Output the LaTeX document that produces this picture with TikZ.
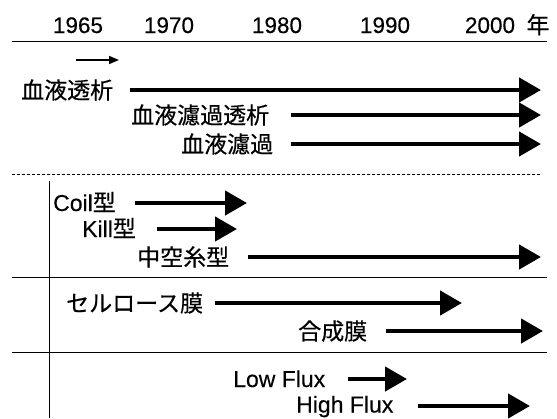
\documentclass[tikz,border=0pt]{standalone}
\usepackage{fontspec}
\setmainfont{Liberation Sans}[FakeBold=0.3]
\newfontfamily\cjk{Noto Sans CJK JP}[FakeBold=0.5]
\usetikzlibrary{arrows.meta}
\tikzset{
  year/.style={inner sep=0pt, anchor=base, font=\fontsize{22.5pt}{24pt}\selectfont},
  lat/.style={inner sep=0pt, anchor=base west, font=\fontsize{23pt}{25pt}\selectfont},
  jp/.style={inner sep=0pt, anchor=base west, font=\cjk\fontsize{23pt}{25pt}\selectfont},
  bigarrow/.style={line width=4.5pt, -{Triangle[length=22pt,width=24pt]}},
  smallarrow/.style={line width=1.5pt, -{Triangle[length=10pt,width=8pt]}},
  rule/.style={line width=0.8pt},
  dashrule/.style={line width=0.8pt, dash pattern=on 3pt off 2pt}
}
\begin{document}
\begin{tikzpicture}[x=1pt,y=-1pt]
\useasboundingbox (0,0) rectangle (557,418);
% years
\node[year] (y1965) at (78,33) {1965};
\node[year] (y1970) at (169,33) {1970};
\node[year] (y1980) at (277,33) {1980};
\node[year] (y1990) at (385,33) {1990};
\node[year] (y2000) at (490,33) {2000};
\node[jp, anchor=base] (nen) at (538,33.5) {年};
% rules
\coordinate (r1a) at (12,41); \coordinate (r1b) at (547,41);
\draw[rule] (r1a) -- (r1b);
\coordinate (da) at (12,174); \coordinate (db) at (542,174);
\draw[dashrule] (da) -- (db);
\coordinate (r2a) at (12,277); \coordinate (r2b) at (547,277);
\draw[rule] (r2a) -- (r2b);
\coordinate (r3a) at (12,352); \coordinate (r3b) at (547,352);
\draw[rule] (r3a) -- (r3b);
\coordinate (va) at (49,181); \coordinate (vb) at (49,418);
\draw[rule] (va) -- (vb);
% small arrow
\coordinate (s1) at (76,60); \coordinate (s2) at (119,60);
\draw[smallarrow] (s1) -- (s2);
% methods
\node[jp] (hd) at (21,98.7) {血液透析};
\coordinate (hd1) at (130,90); \coordinate (hd2) at (541,90);
\draw[bigarrow] (hd1) -- (hd2);
\node[jp] (hdf) at (131,123.7) {血液濾過透析};
\coordinate (hdf1) at (291,115); \coordinate (hdf2) at (541,115);
\draw[bigarrow] (hdf1) -- (hdf2);
\node[jp] (hf) at (181,152.7) {血液濾過};
\coordinate (hf1) at (291,144); \coordinate (hf2) at (541,144);
\draw[bigarrow] (hf1) -- (hf2);
% types
\node[lat] (coil) at (53,211) {Coil{\cjk 型}};
\coordinate (coil1) at (135,203); \coordinate (coil2) at (247,203);
\draw[bigarrow] (coil1) -- (coil2);
\node[lat] (kill) at (82,237) {Kill{\cjk 型}};
\coordinate (kill1) at (157,229); \coordinate (kill2) at (237,229);
\draw[bigarrow] (kill1) -- (kill2);
\node[jp] (hollow) at (137,265.7) {中空糸型};
\coordinate (ho1) at (248,257); \coordinate (ho2) at (541,257);
\draw[bigarrow] (ho1) -- (ho2);
% membranes
\node[jp] (cell) at (66,311.7) {セルロース膜};
\coordinate (ce1) at (215,303); \coordinate (ce2) at (462,303);
\draw[bigarrow] (ce1) -- (ce2);
\node[jp] (syn) at (298,339.7) {合成膜};
\coordinate (sy1) at (386,331); \coordinate (sy2) at (543,331);
\draw[bigarrow] (sy1) -- (sy2);
% flux
\node[lat] (low) at (233,387) {Low Flux};
\coordinate (lo1) at (348,379); \coordinate (lo2) at (407,379);
\draw[bigarrow] (lo1) -- (lo2);
\node[lat] (high) at (296,412.5) {High Flux};
\coordinate (hi1) at (418,406); \coordinate (hi2) at (530,406);
\draw[bigarrow] (hi1) -- (hi2);
\end{tikzpicture}
\end{document}
